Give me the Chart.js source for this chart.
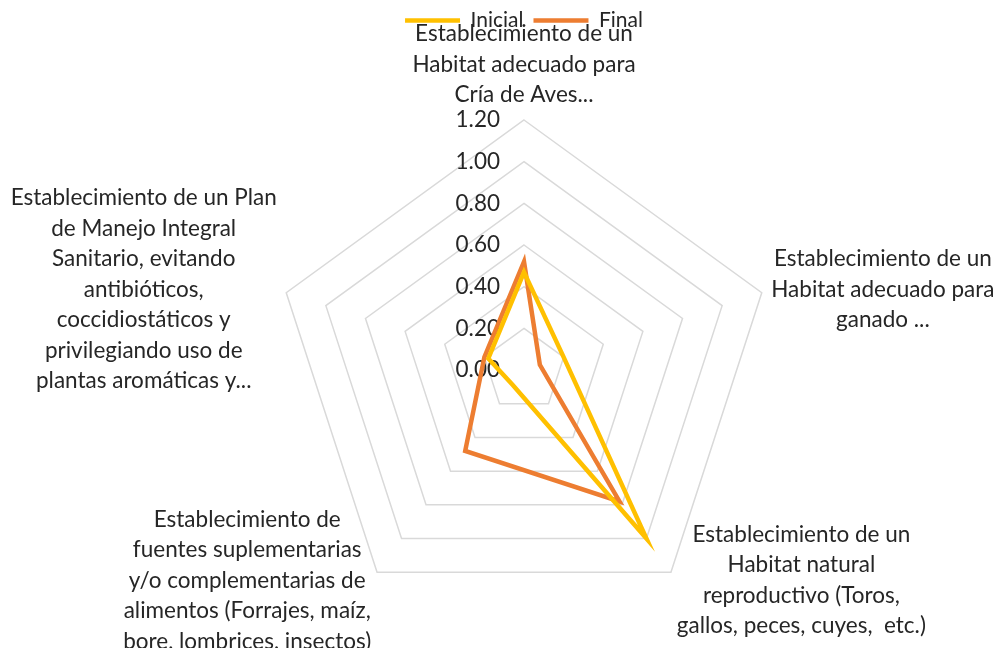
<!DOCTYPE html>
<html>
<head>
<meta charset="utf-8">
<script src="https://cdn.jsdelivr.net/npm/chart.js@4.4.1/dist/chart.umd.min.js"></script>
<style>
  html, body { margin: 0; padding: 0; background: #fff; }
  #wrap { width: 1002px; height: 648px; }
</style>
</head>
<body>
<div id="wrap"><canvas id="myChart" width="1002" height="648"></canvas></div>
<script>
// categories (each one split in the lines shown on the chart)
const categories = [
  ['Establecimiento de un', 'Habitat adecuado para', 'Cría de Aves...'],
  ['Establecimiento de un', 'Habitat adecuado para', 'ganado ...'],
  ['Establecimiento de un', 'Habitat natural', 'reproductivo (Toros,', 'gallos, peces, cuyes,  etc.)'],
  ['Establecimiento de', 'fuentes suplementarias', 'y/o complementarias de', 'alimentos (Forrajes, maíz,', 'bore, lombrices, insectos)'],
  ['Establecimiento de un Plan', 'de Manejo Integral', 'Sanitario, evitando', 'antibióticos,', 'coccidiostáticos y', 'privilegiando uso de', 'plantas aromáticas y...']
];
const inicial = [0.47, 0.20, 1.00, 0.09, 0.18];
const final = [0.52, 0.08, 0.78, 0.48, 0.20];
const seriesNames = ['Inicial', 'Final'];
const axisMin = 0, axisMax = 1.2, axisStep = 0.2;

const fontFamily = 'Lato, "Noto Sans", sans-serif';
const fontSize = 22.5;
const textColor = '#262626';
const lineH = 30.5;

// extra room under the legend so the radar starts lower
const legendGrow = {
  id: 'legendGrow',
  beforeInit(chart) {
    const fit = chart.legend.fit;
    chart.legend.fit = function () {
      fit.bind(chart.legend)();
      this.height += 79;
    };
  }
};

const textPlugin = {
  id: 'radarText',
  beforeDatasetsDraw(chart) {
    // value labels, left of the vertical axis
    const s = chart.scales.r;
    const ctx = chart.ctx;
    ctx.save();
    ctx.font = fontSize + 'px ' + fontFamily;
    ctx.fillStyle = textColor;
    ctx.textAlign = 'right';
    ctx.textBaseline = 'middle';
    s.ticks.forEach(t => {
      const d = s.getDistanceFromCenterForValue(t.value);
      ctx.fillText(t.value.toFixed(2), s.xCenter - 24, s.yCenter - d);
    });
    ctx.restore();
  },
  afterDraw(chart) {
    const s = chart.scales.r;
    const ctx = chart.ctx;
    ctx.save();
    ctx.font = fontSize + 'px ' + fontFamily;
    ctx.fillStyle = textColor;
    ctx.textAlign = 'center';
    ctx.textBaseline = 'middle';
    categories.forEach((lines, i) => {
      const p = s.getPointPosition(i, s.drawingArea + 10);
      const h = lines.length * lineH;
      const w = Math.max(...lines.map(l => ctx.measureText(l).width));
      let cx, top;
      if (Math.abs(p.x - s.xCenter) < 1) {
        cx = p.x; top = p.y - h;
      } else if (p.x > s.xCenter) {
        cx = p.x + w / 2; top = p.y - h / 2;
      } else {
        cx = p.x - w / 2; top = p.y - h / 2;
      }
      lines.forEach((l, k) => ctx.fillText(l, cx, top + lineH * (k + 0.5)));
    });
    ctx.restore();
  }
};

const data = {
  labels: categories,
  datasets: [{
    label: seriesNames[0],
    data: inicial,
    borderColor: '#FFC000',
    backgroundColor: 'rgba(0,0,0,0)',
    borderWidth: 4.5,
    borderCapStyle: 'round',
    pointRadius: 0,
    pointHoverRadius: 0,
    fill: false
  }, {
    label: seriesNames[1],
    data: final,
    borderColor: '#ED7D31',
    backgroundColor: 'rgba(0,0,0,0)',
    borderWidth: 4.5,
    borderCapStyle: 'round',
    pointRadius: 0,
    pointHoverRadius: 0,
    fill: false
  }]
};

const config = {
  type: 'radar',
  data: data,
  options: {
    responsive: false,
    animation: false,
    layout: { padding: { left: 48, right: 2, top: 0, bottom: 28 } },
    plugins: {
      legend: {
        position: 'top',
        labels: {
          usePointStyle: true,
          pointStyle: 'line',
          pointStyleWidth: 55,
          padding: 10,
          color: textColor,
          font: { family: fontFamily, size: 21 }
        }
      },
      tooltip: { enabled: false }
    },
    scales: {
      r: {
        min: axisMin,
        max: axisMax,
        ticks: { stepSize: axisStep, display: false },
        grid: { color: '#D9D9D9', lineWidth: 1.5 },
        angleLines: { display: false },
        pointLabels: { display: false }
      }
    }
  },
  plugins: [legendGrow, textPlugin]
};

const myChart = new Chart(document.getElementById('myChart'), config);
</script>
</body>
</html>
